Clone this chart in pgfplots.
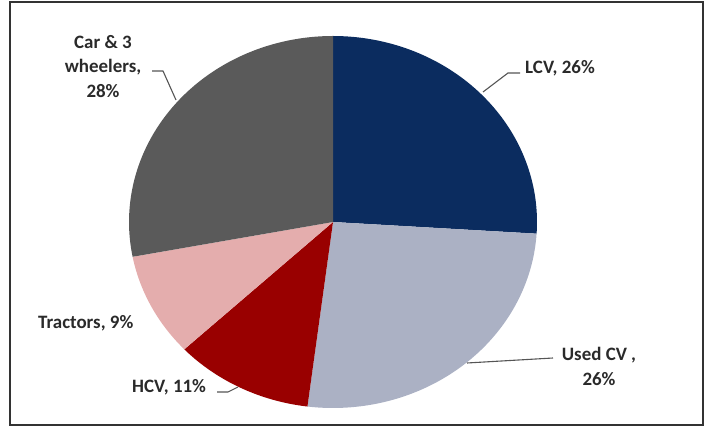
\documentclass[border=0pt]{standalone}
\usepackage{pgfplots}
\pgfplotsset{compat=1.18}
\usepackage{fontspec}
\setmainfont{Carlito}
\definecolor{lcv}{HTML}{0B2C5F}
\definecolor{usedcv}{HTML}{ABB1C4}
\definecolor{hcv}{HTML}{990000}
\definecolor{tractor}{HTML}{E4ADAD}
\definecolor{car}{HTML}{5A5A5A}
\definecolor{lbl}{HTML}{2A2A2A}
\definecolor{leader}{HTML}{555555}
\tikzset{lab/.style={font=\fontsize{19}{25}\selectfont\bfseries,text=lbl,inner sep=0pt}}
\begin{document}
\begin{tikzpicture}
\begin{axis}[width=704bp,height=427bp,scale only axis,
  xmin=0,xmax=704,ymin=0,ymax=427,hide axis,clip=false]
% Shares (%): LCV 26, Used CV 26, HCV 11, Tractors 9, Car & 3 wheelers 28
% start at 90 deg, clockwise, 3.6 deg per percent; ellipse centre (333,205), radii 204 x 186
\addplot[fill=lcv,draw=none,domain=-3.6:90,samples=90]({333+204*cos(x)},{205+186*sin(x)}) -- (axis cs:333,205) -- cycle;
\addplot[fill=usedcv,draw=none,domain=-97.2:-3.6,samples=90]({333+204*cos(x)},{205+186*sin(x)}) -- (axis cs:333,205) -- cycle;
\addplot[fill=hcv,draw=none,domain=-136.8:-97.2,samples=50]({333+204*cos(x)},{205+186*sin(x)}) -- (axis cs:333,205) -- cycle;
\addplot[fill=tractor,draw=none,domain=-169.2:-136.8,samples=40]({333+204*cos(x)},{205+186*sin(x)}) -- (axis cs:333,205) -- cycle;
\addplot[fill=car,draw=none,domain=-270:-169.2,samples=100]({333+204*cos(x)},{205+186*sin(x)}) -- (axis cs:333,205) -- cycle;
% leader lines
\addplot[leader,line width=1.1bp,mark=none] coordinates {(483,335) (508,354) (520,354)};
\addplot[leader,line width=1.1bp,mark=none] coordinates {(176,327) (163,356) (152,356)};
\addplot[leader,line width=1.1bp,mark=none] coordinates {(467,64) (553,69)};
\addplot[leader,line width=1.1bp,mark=none] coordinates {(238,40) (228,35) (217,35)};
% labels
\node[lab,anchor=west] at (axis cs:525,359) {LCV, 26\%};
\node[lab,align=center] at (axis cs:103,360.5) {Car \& 3\\wheelers,\\28\%};
\node[lab,align=center] at (axis cs:599,61) {Used CV ,\\26\%};
\node[lab,anchor=west] at (axis cs:38,104) {Tractors, 9\%};
\node[lab,anchor=west] at (axis cs:132,40) {HCV, 11\%};
% frame
\draw[line width=1.5bp,black!80] (axis cs:10,425) rectangle (axis cs:703,2);
\path (axis cs:0,0) rectangle (axis cs:704,427);
\end{axis}
\end{tikzpicture}
\end{document}
